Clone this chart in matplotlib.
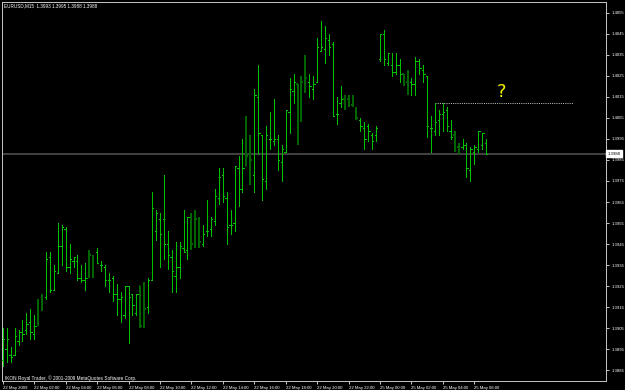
import numpy as np
import matplotlib
matplotlib.use('Agg')
import matplotlib.pyplot as plt
from matplotlib.collections import LineCollection

# EURUSD M15 bars, 22 May 2009 00:00 .. 25 May 2009 06:45
opens = [1.3890, 1.3895, 1.3892, 1.3892, 1.3899, 1.3903, 1.3904, 1.3908, 1.3902, 1.3907,
         1.3915, 1.3920, 1.3939, 1.3923, 1.3931, 1.3944, 1.3952, 1.3934, 1.3937, 1.3937,
         1.3929, 1.3928, 1.3930, 1.3939, 1.3941, 1.3935, 1.3934, 1.3928, 1.3929, 1.3921,
         1.3919, 1.3911, 1.3925, 1.3921, 1.3912, 1.3925, 1.3907, 1.3915, 1.3928, 1.3951,
         1.3957, 1.3957, 1.3945, 1.3939, 1.3930, 1.3934, 1.3943, 1.3942, 1.3959, 1.3945,
         1.3956, 1.3945, 1.3951, 1.3952, 1.3956, 1.3967, 1.3978, 1.3967, 1.3954, 1.3955,
         1.3981, 1.3971, 1.3982, 1.3977, 1.3978, 1.4015, 1.3997, 1.3975, 1.3995, 1.3994,
         1.3995, 1.3984, 1.3989, 1.4008, 1.4018, 1.4021, 1.4004, 1.4022, 1.4022, 1.4019,
         1.4022, 1.4037, 1.4038, 1.4042, 1.4040, 1.4007, 1.4012, 1.4014, 1.4014, 1.4011,
         1.4009, 1.4004, 1.4000, 1.4001, 1.3997, 1.3997, 1.4033, 1.4045, 1.4031, 1.4030,
         1.4027, 1.4030, 1.4026, 1.4022, 1.4022, 1.4021, 1.4032, 1.4028, 1.4025, 1.4000,
         1.3999, 1.4004, 1.4007, 1.4009, 1.3999, 1.3997, 1.3991, 1.3991, 1.3992, 1.3980,
         1.3989, 1.3990, 1.3992, 1.3993]
highs = [1.3905, 1.3905, 1.3896, 1.3905, 1.3904, 1.3909, 1.3912, 1.3914, 1.3911, 1.3919,
         1.3921, 1.3941, 1.3941, 1.3935, 1.3955, 1.3954, 1.3953, 1.3945, 1.3939, 1.3940,
         1.3935, 1.3936, 1.3942, 1.3940, 1.3943, 1.3937, 1.3935, 1.3931, 1.3930, 1.3926,
         1.3922, 1.3925, 1.3925, 1.3921, 1.3921, 1.3925, 1.3927, 1.3929, 1.3970, 1.3961,
         1.3960, 1.3978, 1.3951, 1.3942, 1.3946, 1.3946, 1.3961, 1.3958, 1.3960, 1.3961,
         1.3958, 1.3954, 1.3966, 1.3958, 1.3971, 1.3981, 1.3981, 1.3970, 1.3961, 1.3982,
         1.3987, 1.3995, 1.4006, 1.3997, 1.4019, 1.4030, 1.3997, 1.4001, 1.4008, 1.4014,
         1.3997, 1.3992, 1.4009, 1.4024, 1.4026, 1.4021, 1.4025, 1.4035, 1.4026, 1.4025,
         1.4043, 1.4051, 1.4049, 1.4045, 1.4041, 1.4015, 1.4020, 1.4016, 1.4016, 1.4016,
         1.4010, 1.4005, 1.4003, 1.4002, 1.3998, 1.4001, 1.4045, 1.4047, 1.4036, 1.4036,
         1.4036, 1.4033, 1.4026, 1.4028, 1.4024, 1.4034, 1.4033, 1.4030, 1.4025, 1.4006,
         1.4012, 1.4009, 1.4012, 1.4010, 1.4004, 1.3999, 1.3993, 1.3995, 1.3993, 1.3991,
         1.3992, 1.3999, 1.3998, 1.3995]
lows = [1.3887, 1.3889, 1.3889, 1.3892, 1.3897, 1.3899, 1.3902, 1.3900, 1.3900, 1.3906,
        1.3913, 1.3919, 1.3922, 1.3923, 1.3931, 1.3935, 1.3932, 1.3931, 1.3934, 1.3928,
        1.3927, 1.3923, 1.3929, 1.3929, 1.3936, 1.3932, 1.3925, 1.3922, 1.3918, 1.3911,
        1.3908, 1.3910, 1.3898, 1.3911, 1.3911, 1.3905, 1.3905, 1.3912, 1.3928, 1.3947,
        1.3934, 1.3938, 1.3933, 1.3922, 1.3922, 1.3929, 1.3941, 1.3938, 1.3942, 1.3943,
        1.3943, 1.3944, 1.3949, 1.3949, 1.3954, 1.3964, 1.3965, 1.3945, 1.3950, 1.3951,
        1.3963, 1.3970, 1.3982, 1.3973, 1.3970, 1.3988, 1.3966, 1.3971, 1.3990, 1.3992,
        1.3980, 1.3975, 1.3989, 1.3998, 1.4012, 1.3992, 1.4003, 1.4017, 1.4015, 1.4014,
        1.4022, 1.4037, 1.4031, 1.4035, 1.4006, 1.4002, 1.4010, 1.4009, 1.4010, 1.4010,
        1.4004, 1.3999, 1.3990, 1.3994, 1.3990, 1.3994, 1.4032, 1.4030, 1.4030, 1.4025,
        1.4026, 1.4022, 1.4020, 1.4016, 1.4016, 1.4016, 1.4026, 1.4022, 1.3996, 1.3989,
        1.3997, 1.3997, 1.3999, 1.3999, 1.3995, 1.3989, 1.3988, 1.3990, 1.3977, 1.3975,
        1.3983, 1.3989, 1.3990, 1.3988]
closes = [1.3900, 1.3900, 1.3891, 1.3901, 1.3903, 1.3902, 1.3907, 1.3903, 1.3906, 1.3916,
          1.3919, 1.3938, 1.3923, 1.3932, 1.3944, 1.3953, 1.3934, 1.3938, 1.3939, 1.3929,
          1.3928, 1.3929, 1.3940, 1.3939, 1.3936, 1.3935, 1.3928, 1.3928, 1.3921, 1.3919,
          1.3920, 1.3925, 1.3920, 1.3916, 1.3921, 1.3906, 1.3914, 1.3928, 1.3962, 1.3960,
          1.3950, 1.3945, 1.3940, 1.3932, 1.3934, 1.3944, 1.3941, 1.3958, 1.3945, 1.3957,
          1.3946, 1.3950, 1.3951, 1.3957, 1.3968, 1.3977, 1.3968, 1.3953, 1.3954, 1.3982,
          1.3971, 1.3981, 1.3987, 1.3985, 1.4016, 1.3998, 1.3976, 1.3997, 1.3995, 1.3995,
          1.3985, 1.3990, 1.4009, 1.4019, 1.4022, 1.4004, 1.4022, 1.4024, 1.4020, 1.4021,
          1.4039, 1.4039, 1.4043, 1.4039, 1.4006, 1.4007, 1.4014, 1.4010, 1.4011, 1.4014,
          1.4005, 1.4001, 1.3995, 1.3999, 1.3994, 1.4000, 1.4045, 1.4033, 1.4036, 1.4027,
          1.4030, 1.4026, 1.4023, 1.4026, 1.4021, 1.4032, 1.4029, 1.4026, 1.4001, 1.4000,
          1.4003, 1.4007, 1.4008, 1.4001, 1.3996, 1.3991, 1.3992, 1.3992, 1.3981, 1.3990,
          1.3991, 1.3999, 1.3998, 1.3988]
# bars drawn in the darker shade
dark_bars = [9, 10, 22, 23, 35, 36, 48, 49, 50, 62, 63, 75, 76, 77,
             87, 88, 89, 90, 102, 103, 115, 116]

time_labels = ['22 May 2009', '22 May 02:00', '22 May 04:00', '22 May 06:00',
               '22 May 08:00', '22 May 10:00', '22 May 12:00', '22 May 14:00',
               '22 May 16:00', '22 May 18:00', '22 May 20:00', '22 May 22:00',
               '25 May 00:00', '25 May 02:00', '25 May 04:00', '25 May 06:00']
price_labels = ['1.3885', '1.3895', '1.3905', '1.3915', '1.3925', '1.3935', '1.3945',
                '1.3955', '1.3965', '1.3975', '1.3985', '1.3995', '1.4005', '1.4015',
                '1.4025', '1.4035', '1.4045', '1.4055']
title = 'EURUSD,M15  1.3993 1.3995 1.3988 1.3988'
footer = 'IKON Royal Trader, \u00a9 2001-2009 MetaQuotes Software Corp.'
last_price = 1.3988
level_price = 1.4012
level_from = 110
level_to = 145

BRIGHT = '#00c000'
DARK = '#006400'
GREY = '#c0c0c0'
FS = 3.1
plt.rcParams['font.family'] = ['Liberation Sans', 'DejaVu Sans']

fig = plt.figure(figsize=(6.25, 3.9), dpi=100, facecolor='black')
ax = fig.add_axes([2 / 625, 9 / 390, 604 / 625, 379 / 390])
ax.set_facecolor('black')
ax.set_xlim(-0.2, 153.5)
ax.set_ylim(1.38798, 1.40602)

px = 0.72  # one pixel in points
ax.axhline(last_price, color='#404040', lw=2 * px, zorder=1)


def bar_segments(idx):
    segs = []
    for k in idx:
        segs.append([(k, lows[k]), (k, highs[k])])
        segs.append([(k - 0.33, opens[k]), (k, opens[k])])
        segs.append([(k, closes[k]), (k + 0.33, closes[k])])
    return segs


n = len(opens)
light_idx = [k for k in range(n) if k not in dark_bars]
ax.add_collection(LineCollection(bar_segments(light_idx), colors=BRIGHT,
                                 linewidths=px, antialiaseds=False, zorder=3))
ax.add_collection(LineCollection(bar_segments(dark_bars), colors=DARK,
                                 linewidths=2 * px, antialiaseds=False, zorder=2))

ax.plot([level_from, level_to], [level_price, level_price], color=GREY,
        lw=px, ls=(0, (1, 1.2)), zorder=2)
ax.text(126.9, 1.40174, '?', color='#f0f000', fontsize=13, family='DejaVu Sans',
        ha='center', va='center')

for s in ax.spines.values():
    s.set_color(GREY)
    s.set_linewidth(px)

ax.yaxis.tick_right()
ax.set_yticks([float(p) for p in price_labels])
ax.set_yticklabels(price_labels)
ax.set_xticks(np.arange(len(time_labels)) * 8)
ax.set_xticklabels(time_labels, ha='left')
ax.tick_params(axis='both', colors=GREY, labelcolor='white', labelsize=FS,
               length=2.5, width=px, pad=1.2)

ax.text(1.0 + 1.5 / 604, last_price, '1.3988', transform=ax.get_yaxis_transform(),
        color='black', fontsize=FS, va='center', ha='left', zorder=5, clip_on=False,
        bbox=dict(boxstyle='square,pad=0.35', fc='white', ec='white'))

fig.text(4 / 625, 1 - 6 / 390, title, color='white', fontsize=3.3,
         va='center', ha='left')
ax.text(3 / 604, 1.3881, footer, transform=ax.get_yaxis_transform(),
        color='white', fontsize=3.4, va='center', ha='left')

fig.savefig('out.png', dpi=100, facecolor='black')
